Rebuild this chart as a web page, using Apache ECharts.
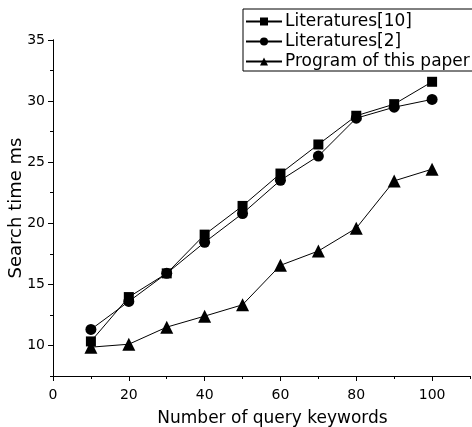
<!DOCTYPE html>
<html>
<head>
<meta charset="utf-8">
<script src="https://cdn.jsdelivr.net/npm/echarts@6/dist/echarts.min.js"></script>
<style>
  html, body { margin: 0; padding: 0; background: #fff; }
  #chart { width: 472px; height: 427px; }
</style>
</head>
<body>
<div id="chart"></div>
<script>
const keywords = [10, 20, 30, 40, 50, 60, 70, 80, 90, 100];
const literatures10 = [10.33, 13.96, 15.9, 19.07, 21.42, 24.07, 26.45, 28.8, 29.75, 31.58];
const literatures2 = [11.31, 13.6, 15.9, 18.44, 20.8, 23.52, 25.5, 28.6, 29.5, 30.14];
const thisPaper = [9.86, 10.1, 11.5, 12.4, 13.33, 16.56, 17.73, 19.6, 23.47, 24.43];

const xMajor = [0, 20, 40, 60, 80, 100];
const xMinor = [10, 30, 50, 70, 90, 110];
const yMajor = [10, 15, 20, 25, 30, 35];
const yMinor = [7.5, 12.5, 17.5, 22.5, 27.5, 32.5];

const chart = echarts.init(document.getElementById('chart'));

const font = 'DejaVu Sans';
const ink = '#000';

function pairs(values) {
  return keywords.map((k, i) => [k, values[i]]);
}

function lineSeries(name, values, symbol, size) {
  return {
    name,
    type: 'line',
    data: pairs(values),
    xAxisIndex: 0,
    yAxisIndex: 0,
    symbol,
    symbolSize: size,
    showAllSymbol: true,
    lineStyle: { color: ink, width: 1 },
    itemStyle: { color: ink, borderWidth: 0 },
    emphasis: { disabled: true }
  };
}

const triangle = 'path://M0,-10 L10,8 L-10,8 Z';

chart.setOption({
  animation: false,
  grid: { left: 53, right: 2, top: 40, bottom: 51, containLabel: false, outerBoundsMode: 'none' },
  legend: {
    orient: 'vertical',
    left: 243,
    top: 9,
    padding: [4, 30, 1, 2],
    itemGap: 3,
    itemWidth: 36,
    itemHeight: 10,
    borderColor: '#000',
    borderWidth: 1,
    backgroundColor: '#fff',
    textStyle: { fontFamily: font, fontSize: 17, color: ink, padding: [0, 0, 0, -2] },
    data: ['Literatures[10]', 'Literatures[2]', 'Program of this paper']
  },
  xAxis: [
    {
      type: 'value',
      min: 0,
      max: 110,
      name: 'Number of query keywords',
      nameLocation: 'middle',
      nameGap: 34,
      nameMoveOverlap: false,
      nameTextStyle: { fontFamily: font, fontSize: 17, color: ink, padding: [0, 0, 0, 22] },
      splitLine: { show: false },
      axisLine: { lineStyle: { color: ink, width: 1 } },
      axisTick: { customValues: xMajor, length: 5, lineStyle: { color: ink } },
      axisLabel: { customValues: xMajor, fontFamily: font, fontSize: 14, color: ink, margin: 12 }
    },
    {
      type: 'value',
      min: 0,
      max: 110,
      position: 'bottom',
      splitLine: { show: false },
      axisLine: { lineStyle: { color: ink, width: 1 } },
      axisTick: { customValues: xMinor, length: 3, lineStyle: { color: ink } },
      axisLabel: { show: false }
    }
  ],
  yAxis: [
    {
      type: 'value',
      min: 7.5,
      max: 35,
      name: 'Search time ms',
      nameLocation: 'middle',
      nameGap: 28,
      nameMoveOverlap: false,
      nameTextStyle: { fontFamily: font, fontSize: 18, color: ink },
      splitLine: { show: false },
      axisLine: { show: true, lineStyle: { color: ink, width: 1 } },
      axisTick: { show: true, customValues: yMajor, length: 5, lineStyle: { color: ink } },
      axisLabel: { customValues: yMajor, fontFamily: font, fontSize: 14, color: ink, margin: 8 }
    },
    {
      type: 'value',
      min: 7.5,
      max: 35,
      position: 'left',
      splitLine: { show: false },
      axisLine: { show: true, lineStyle: { color: ink, width: 1 } },
      axisTick: { show: true, customValues: yMinor, length: 3, lineStyle: { color: ink } },
      axisLabel: { show: false }
    }
  ],
  series: [
    lineSeries('Literatures[10]', literatures10, 'rect', 10),
    lineSeries('Literatures[2]', literatures2, 'circle', 11),
    lineSeries('Program of this paper', thisPaper, triangle, 13)
  ]
});
</script>
</body>
</html>
